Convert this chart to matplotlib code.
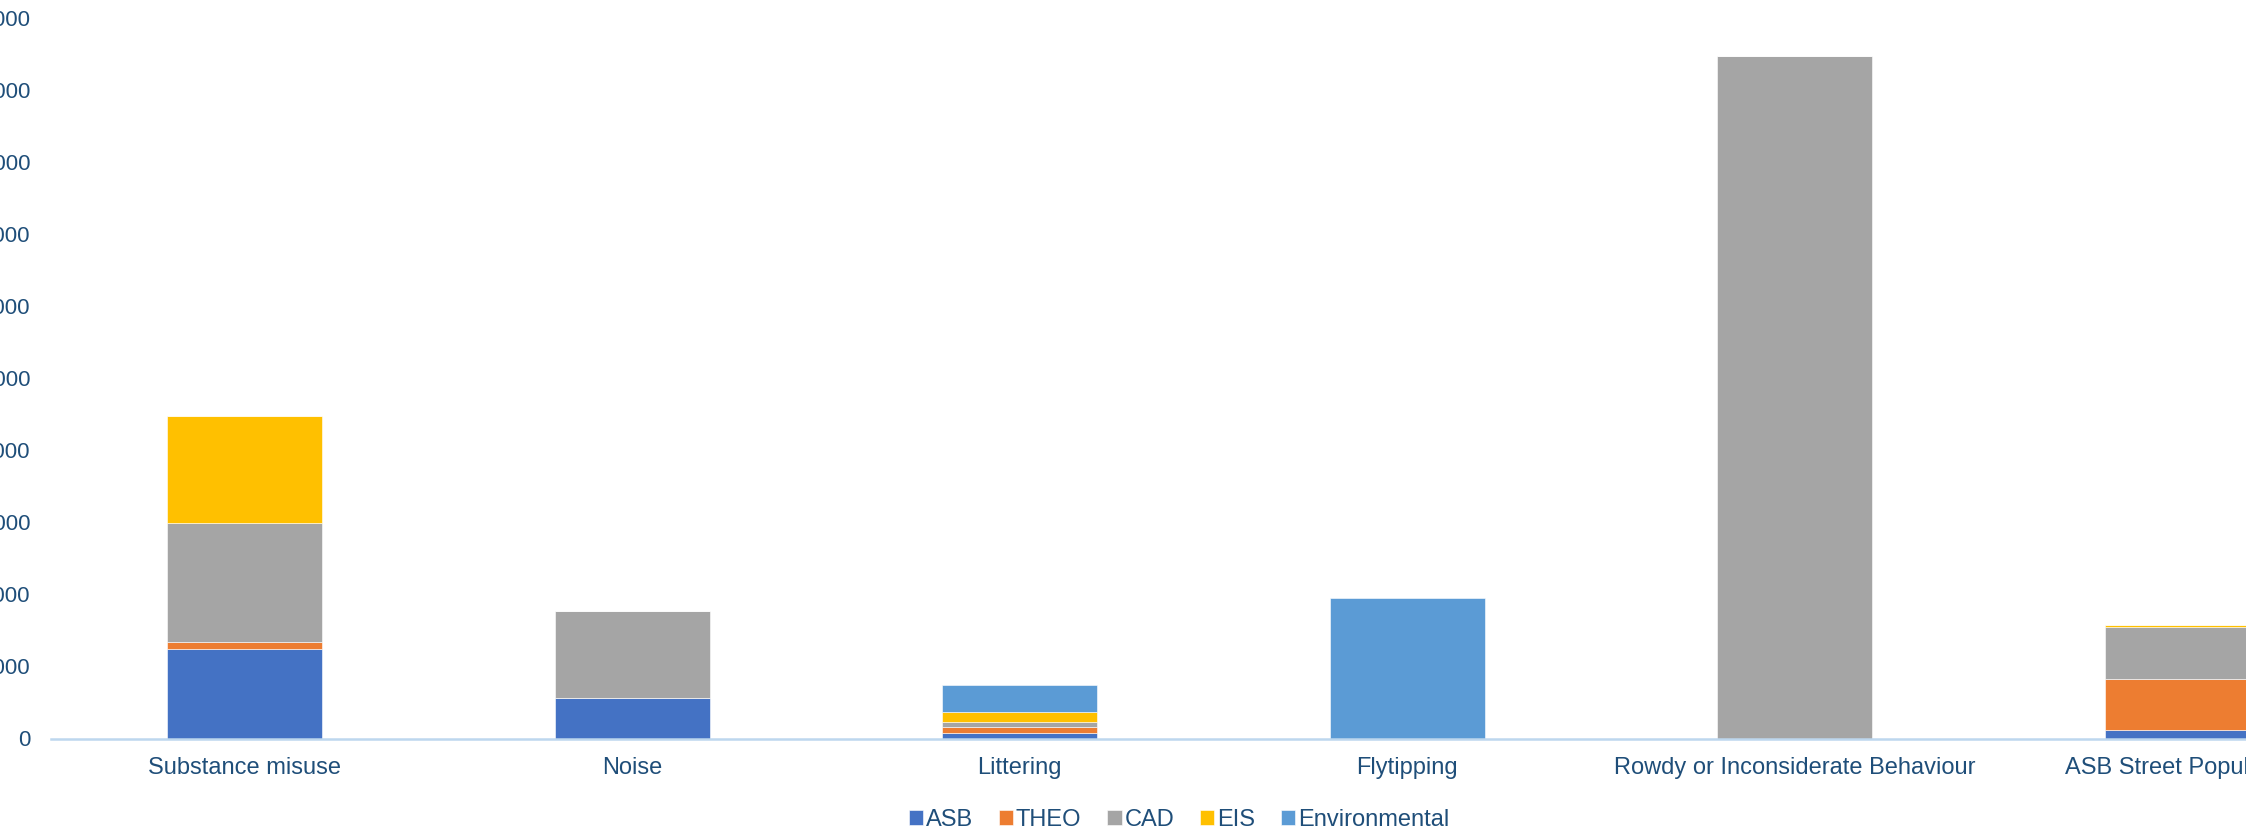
import matplotlib
matplotlib.use("Agg")
import matplotlib.pyplot as plt
import numpy as np

plt.rcParams['font.family'] = ['Liberation Sans', 'DejaVu Sans']

categories = ['Substance misuse', 'Noise', 'Littering', 'Flytipping',
              'Rowdy or Inconsiderate Behaviour', 'ASB Street Population']
asb = [1250, 565, 70, 0, 0, 120]
theo = [90, 0, 83, 0, 0, 710]
cad = [1655, 1205, 83, 0, 9480, 715]
eis = [1485, 0, 135, 0, 0, 25]
environmental = [0, 0, 375, 1945, 0, 0]

series = [('ASB', asb, '#4472c4'),
          ('THEO', theo, '#ed7d31'),
          ('CAD', cad, '#a5a5a5'),
          ('EIS', eis, '#ffc000'),
          ('Environmental', environmental, '#5b9bd5')]

W, H = 2246, 834
text_col = '#1f4e79'

fig = plt.figure(figsize=(W / 100, H / 100), dpi=100)
ax = fig.add_axes([51 / W, 95.5 / H, 6 * 387.5 / W, 720 / H])

x = np.arange(len(categories))
bottom = np.zeros(len(categories))
for name, vals, col in series:
    vals = np.array(vals, dtype=float)
    ax.bar(x, vals, width=0.4, bottom=bottom, color=col, label=name,
           edgecolor='white', linewidth=0.4)
    bottom += vals

ax.set_xlim(-0.5, 5.5)
ax.set_ylim(0, 10000)
ax.set_yticks(np.arange(0, 10001, 1000))
ax.set_xticks(x)
ax.set_xticklabels(categories)

for s in ['top', 'right', 'left']:
    ax.spines[s].set_visible(False)
ax.spines['bottom'].set_color('#bdd7ee')
ax.spines['bottom'].set_linewidth(1.8)

ax.tick_params(axis='both', length=0, colors=text_col)
ax.tick_params(axis='y', pad=15, labelsize=16)
ax.tick_params(axis='x', pad=13, labelsize=17)

fig.legend(loc='center', bbox_to_anchor=(0.525, 1 - 820 / H), ncol=5,
           frameon=False, fontsize=17, handlelength=0.6, handleheight=0.6,
           handletextpad=0.12, columnspacing=1.1, labelcolor=text_col)

fig.savefig('out.png', dpi=100)
